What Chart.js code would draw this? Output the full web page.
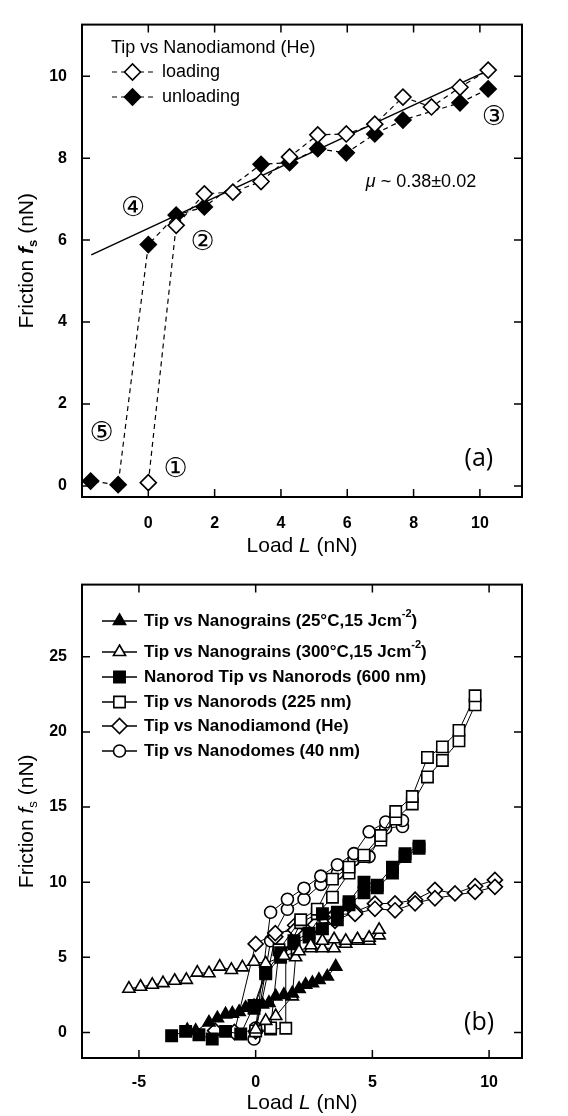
<!DOCTYPE html>
<html>
<head>
<meta charset="utf-8">
<script src="https://cdn.jsdelivr.net/npm/chart.js@4/dist/chart.umd.min.js"></script>
<style>
  html, body { margin: 0; padding: 0; background: #fff; }
  #wrap { position: relative; width: 568px; height: 1116px; }
  canvas { position: absolute; left: 0; }
</style>
</head>
<body>
<div id="wrap">
  <canvas id="chartA" width="568" height="560" style="top:0"></canvas>
  <canvas id="chartB" width="568" height="556" style="top:560px"></canvas>
</div>
<script>
// ---- panel (a): tip vs nanodiamond (He) ----
const loadLoading = [0, 0.84, 1.69, 2.55, 3.4, 4.26, 5.11, 5.97, 6.83, 7.68, 8.54, 9.4, 10.25];
const frictionLoading = [0.08, 6.36, 7.13, 7.17, 7.43, 8.03, 8.57, 8.59, 8.83, 9.49, 9.25, 9.73, 10.15];
const loadUnloading = [10.25, 9.4, 7.68, 6.83, 5.97, 5.11, 4.26, 3.4, 1.69, 0.84, 0, -0.91, -1.74];
const frictionUnloading = [9.69, 9.35, 8.93, 8.59, 8.13, 8.23, 7.89, 7.85, 6.81, 6.61, 5.89, 0.03, 0.12];
const fitLoad = [-1.72, 10.22];
const fitFriction = [5.64, 10.13];
const xTicksA = [0, 2, 4, 6, 8, 10];
const yTicksA = [0, 2, 4, 6, 8, 10];

// ---- panel (b): all systems, [load, friction] in measuring order ----
const grains25 = [[-2.93,0.15],[-2.57,0.1],[-2.0,0.66],[-1.64,0.94],[-1.29,1.2],[-1.0,1.25],[-0.71,1.36],[-0.43,1.64],[-0.07,1.75],[0.29,1.86],[0.57,1.97],[0.86,2.4],[1.21,2.5],[1.57,2.6],[1.86,2.9],[2.14,3.17],[2.43,3.28],[2.71,3.5],[3.07,3.72],[3.43,4.38]];
const grains300 = [[0.0,0.2],[0.43,0.77],[0.86,1.09],[1.57,2.4],[1.71,5.0],[2.36,5.6],[2.86,5.6],[3.36,5.6],[3.86,5.9],[4.36,6.1],[4.86,6.1],[5.29,6.46],
  [5.29,6.83],[4.86,6.3],[4.36,6.2],[3.86,6.1],[3.36,6.2],[2.86,6.1],[2.36,5.8],[1.86,5.4],[1.21,5.1],[0.43,4.6],[-0.07,4.7],[-0.57,4.33],[-1.04,4.16],[-1.54,4.38],[-2.0,3.94],[-2.5,3.98],[-2.97,3.5],[-3.47,3.44],[-3.97,3.28],[-4.43,3.17],[-4.93,3.04],[-5.43,2.91]];
const rods600 = [[-0.07,1.6],[0.43,3.9],[1.07,5.0],[1.64,5.9],[2.29,6.35],[2.86,6.9],[3.5,7.5],[4.0,8.5],[4.64,9.3],[5.21,9.63],[5.86,10.6],[6.4,11.7],[7.0,12.25],
  [7.0,12.4],[6.4,11.9],[5.86,11.0],[5.21,9.8],[4.64,10.0],[4.0,8.7],[3.5,8.0],[2.86,7.9],[2.29,6.6],[1.64,6.1],[1.07,5.3],[0.43,4.0],[-0.07,1.8],[-0.64,-0.1],[-1.29,0.07],[-1.86,-0.44],[-2.43,-0.15],[-3.0,0.07],[-3.6,-0.22]];
const rods225 = [[0.0,0.1],[0.64,0.22],[1.29,0.28],[1.29,5.25],[1.93,7.3],[2.64,7.9],[3.29,9.0],[4.0,10.6],[4.64,11.7],[5.36,12.8],[6.0,14.2],[6.71,15.2],[7.36,17.0],[8.0,18.1],[8.71,19.4],[9.4,21.8],
  [9.4,22.4],[8.71,20.1],[8.0,19.0],[7.36,18.3],[6.71,15.7],[6.0,14.7],[5.36,13.1],[4.64,11.8],[4.0,11.0],[3.29,10.2],[2.64,8.2],[1.93,7.5],[1.0,5.5],[0.64,0.3]];
const domes40 = [[-0.07,-0.44],[0.0,0.1],[0.64,6.1],[1.36,8.2],[2.07,8.86],[2.79,9.85],[3.5,10.6],[4.21,11.5],[4.86,11.7],[5.57,13.6],[6.29,13.7],
  [6.29,14.1],[5.57,14.0],[4.86,13.35],[4.21,11.9],[3.5,11.16],[2.79,10.4],[2.07,9.6],[1.36,8.86],[0.64,8.0],[0.0,0.3]];
const labelsB = [
  'Tip vs Nanograins (25°C,15 Jcm^-2^)',
  'Tip vs Nanograins (300°C,15 Jcm^-2^)',
  'Nanorod Tip vs Nanorods (600 nm)',
  'Tip vs Nanorods (225 nm)',
  'Tip vs Nanodiamond (He)',
  'Tip vs Nanodomes (40 nm)'
];
const xTicksB = [-5, 0, 5, 10];
const yTicksB = [0, 5, 10, 15, 20, 25];

const SANS = '"Liberation Sans", Arial, sans-serif';
Chart.defaults.font.family = SANS;
Chart.defaults.color = '#000';

const zip = (xs, ys) => xs.map((v, i) => ({x: v, y: ys[i]}));
const pts = arr => arr.map(p => ({x: p[0], y: p[1]}));

// draw a row of text pieces with different fonts; '^' toggles superscript
function pieces(str, font, supFont) {
  return str.split('^').map((t, i) => i % 2 ? {text: t, font: supFont, dy: -7} : {text: t, font: font});
}
function drawRich(ctx, parts, x, y, align) {
  let w = 0;
  parts.forEach(p => { ctx.font = p.font; w += ctx.measureText(p.text).width; });
  let cx = align === 'center' ? x - w / 2 : x;
  ctx.textAlign = 'left';
  ctx.textBaseline = 'middle';
  ctx.fillStyle = '#000';
  parts.forEach(p => {
    ctx.font = p.font;
    ctx.fillText(p.text, cx, y + (p.dy || 0));
    cx += ctx.measureText(p.text).width;
  });
}

// box with inward ticks on all four sides
const frame = {
  id: 'frame',
  afterDatasetsDraw(chart) {
    const {ctx, chartArea: a, scales: {x, y}} = chart;
    const t = 8;
    ctx.save();
    ctx.strokeStyle = '#000';
    ctx.lineWidth = 1.5;
    ctx.beginPath();
    x.ticks.forEach(tk => {
      const p = x.getPixelForValue(tk.value);
      ctx.moveTo(p, a.bottom); ctx.lineTo(p, a.bottom - t);
      ctx.moveTo(p, a.top); ctx.lineTo(p, a.top + t);
    });
    y.ticks.forEach(tk => {
      const p = y.getPixelForValue(tk.value);
      ctx.moveTo(a.left, p); ctx.lineTo(a.left + t, p);
      ctx.moveTo(a.right, p); ctx.lineTo(a.right - t, p);
    });
    ctx.stroke();
    ctx.lineWidth = 2;
    ctx.strokeRect(a.left, a.top, a.right - a.left, a.bottom - a.top);
    ctx.restore();
  }
};

function legendSample(ctx, ds, x1, x2, y, lw) {
  ctx.save();
  ctx.strokeStyle = '#000';
  ctx.lineWidth = lw;
  ctx.setLineDash(ds.borderDash || []);
  ctx.beginPath(); ctx.moveTo(x1, y); ctx.lineTo(x2, y); ctx.stroke();
  ctx.setLineDash([]);
  ctx.fillStyle = ds.pointBackgroundColor;
  ctx.strokeStyle = ds.pointBorderColor;
  ctx.lineWidth = ds.pointBorderWidth;
  Chart.helpers.drawPoint(ctx, {pointStyle: ds.pointStyle, radius: ds.pointRadius, rotation: 0, borderWidth: ds.pointBorderWidth}, (x1 + x2) / 2, y);
  ctx.restore();
}

function axisTitles(chart, yTitleParts, xTitleY, yTitleX) {
  const {ctx, chartArea: a} = chart;
  const f = '21px ' + SANS, fi = 'italic 21px ' + SANS;
  ctx.save();
  drawRich(ctx, [{text: 'Load ', font: f}, {text: 'L', font: fi}, {text: ' (nN)', font: f}], (a.left + a.right) / 2, xTitleY, 'center');
  ctx.translate(yTitleX, (a.top + a.bottom) / 2);
  ctx.rotate(-Math.PI / 2);
  drawRich(ctx, yTitleParts, 0, 0, 'center');
  ctx.restore();
}

// ---------- panel (a) ----------
const dsLoading = {
  data: zip(loadLoading, frictionLoading), showLine: true,
  borderColor: '#000', borderWidth: 1.2, borderDash: [5, 4],
  pointStyle: 'rectRot', pointRadius: 8, pointBackgroundColor: '#fff', pointBorderColor: '#000', pointBorderWidth: 1.6
};
const dsUnloading = {
  data: zip(loadUnloading, frictionUnloading), showLine: true,
  borderColor: '#000', borderWidth: 1.2, borderDash: [5, 4],
  pointStyle: 'rectRot', pointRadius: 8, pointBackgroundColor: '#000', pointBorderColor: '#000', pointBorderWidth: 1.6
};
const dsFit = {
  data: zip(fitLoad, fitFriction), showLine: true,
  borderColor: '#000', borderWidth: 1.5, pointRadius: 0
};

const notesA = [
  {t: '①', x: 0.82, y: 0.39}, {t: '②', x: 1.64, y: 5.94}, {t: '③', x: 10.42, y: 8.97},
  {t: '④', x: -0.46, y: 6.75}, {t: '⑤', x: -1.41, y: 1.28}
];

const extrasA = {
  id: 'extrasA',
  afterDraw(chart) {
    const {ctx, scales: {x, y}} = chart;
    ctx.save();
    ctx.fillStyle = '#000';
    ctx.textAlign = 'center';
    ctx.textBaseline = 'middle';
    ctx.font = '27px "DejaVu Serif", "DejaVu Sans", "Noto Sans CJK JP", serif';
    notesA.forEach(n => ctx.fillText(n.t, x.getPixelForValue(n.x), y.getPixelForValue(n.y)));
    drawRich(ctx, [{text: 'μ', font: 'italic 18px ' + SANS}, {text: ' ~ 0.38±0.02', font: '18px ' + SANS}],
      x.getPixelForValue(6.56), y.getPixelForValue(7.41), 'left');
    ctx.font = '25px "Open Sans", ' + SANS;
    ctx.textAlign = 'center';
    ctx.fillText('(a)', x.getPixelForValue(9.97), y.getPixelForValue(0.66));
    // legend
    drawRich(ctx, [{text: 'Tip vs Nanodiamond (He)', font: '18px ' + SANS}], 111, 48, 'left');
    legendSample(ctx, dsLoading, 112, 153, 72, 1.2);
    drawRich(ctx, [{text: 'loading', font: '18px ' + SANS}], 162, 72, 'left');
    legendSample(ctx, dsUnloading, 112, 153, 97, 1.2);
    drawRich(ctx, [{text: 'unloading', font: '18px ' + SANS}], 162, 97, 'left');
    ctx.restore();
    axisTitles(chart, [
      {text: 'Friction ', font: '21px ' + SANS}, {text: 'f', font: 'italic bold 21px ' + SANS},
      {text: 's', font: 'bold 13px ' + SANS, dy: 6}, {text: ' (nN)', font: '21px ' + SANS}
    ], 546, 27);
  }
};

new Chart(document.getElementById('chartA'), {
  type: 'scatter',
  data: {datasets: [dsLoading, dsUnloading, dsFit]},
  options: {
    responsive: false, animation: false, events: [],
    layout: {padding: {top: 16, right: 46, left: 0, bottom: 0}},
    plugins: {legend: {display: false}, tooltip: {enabled: false}},
    scales: {
      x: {
        type: 'linear', min: -2, max: 11.27,
        afterBuildTicks: s => { s.ticks = xTicksA.map(v => ({value: v})); },
        afterFit: s => { s.height = 63; },
        grid: {display: false, drawTicks: false}, border: {display: false},
        ticks: {padding: 17, font: {size: 16, weight: 'bold'}, color: '#000'}
      },
      y: {
        type: 'linear', min: -0.27, max: 11.26,
        afterBuildTicks: s => { s.ticks = yTicksA.map(v => ({value: v})); },
        afterFit: s => { s.width = 82; },
        grid: {display: false, drawTicks: false}, border: {display: false},
        ticks: {padding: 15, font: {size: 16, weight: 'bold'}, color: '#000'}
      }
    }
  },
  plugins: [frame, extrasA]
});

// ---------- panel (b) ----------
function seriesB(arr, style, radius, fill) {
  return {
    data: pts(arr), showLine: true, borderColor: '#000', borderWidth: 1,
    pointStyle: style, pointRadius: radius, pointBackgroundColor: fill,
    pointBorderColor: '#000', pointBorderWidth: 1.6
  };
}
const diamondB = loadLoading.map((v, i) => [v, frictionLoading[i]])
  .concat(loadUnloading.map((v, i) => [v, frictionUnloading[i]]));
const datasetsB = [
  seriesB(grains25, 'triangle', 7, '#000'),
  seriesB(grains300, 'triangle', 7, '#fff'),
  seriesB(rods600, 'rect', 8, '#000'),
  seriesB(rods225, 'rect', 8, '#fff'),
  seriesB(diamondB, 'rectRot', 7.5, '#fff'),
  seriesB(domes40, 'circle', 6, '#fff')
];
const legendRowsB = [61, 92, 117, 142, 166, 191];

const extrasB = {
  id: 'extrasB',
  afterDraw(chart) {
    const {ctx, scales: {x, y}} = chart;
    ctx.save();
    ctx.fillStyle = '#000';
    ctx.font = '25px "Open Sans", ' + SANS;
    ctx.textAlign = 'center';
    ctx.textBaseline = 'middle';
    ctx.fillText('(b)', x.getPixelForValue(9.57), y.getPixelForValue(0.66));
    datasetsB.forEach((ds, i) => {
      legendSample(ctx, ds, 102, 137, legendRowsB[i], 1.5);
      drawRich(ctx, pieces(labelsB[i], 'bold 17px ' + SANS, 'bold 11px ' + SANS), 144, legendRowsB[i], 'left');
    });
    ctx.restore();
    axisTitles(chart, [
      {text: 'Friction ', font: '21px ' + SANS}, {text: 'f', font: 'italic 21px ' + SANS},
      {text: 's', font: '13px ' + SANS, dy: 6}, {text: ' (nN)', font: '21px ' + SANS}
    ], 543, 27);
  }
};

new Chart(document.getElementById('chartB'), {
  type: 'scatter',
  data: {datasets: datasetsB},
  options: {
    responsive: false, animation: false, events: [],
    layout: {padding: {top: 18, right: 46, left: 0, bottom: 0}},
    plugins: {legend: {display: false}, tooltip: {enabled: false}},
    scales: {
      x: {
        type: 'linear', min: -7.44, max: 11.41,
        afterBuildTicks: s => { s.ticks = xTicksB.map(v => ({value: v})); },
        afterFit: s => { s.height = 58; },
        grid: {display: false, drawTicks: false}, border: {display: false},
        ticks: {padding: 15, font: {size: 16, weight: 'bold'}, color: '#000'}
      },
      y: {
        type: 'linear', min: -1.7, max: 29.8,
        afterBuildTicks: s => { s.ticks = yTicksB.map(v => ({value: v})); },
        afterFit: s => { s.width = 82; },
        grid: {display: false, drawTicks: false}, border: {display: false},
        ticks: {padding: 15, font: {size: 16, weight: 'bold'}, color: '#000'}
      }
    }
  },
  plugins: [frame, extrasB]
});
</script>
</body>
</html>
